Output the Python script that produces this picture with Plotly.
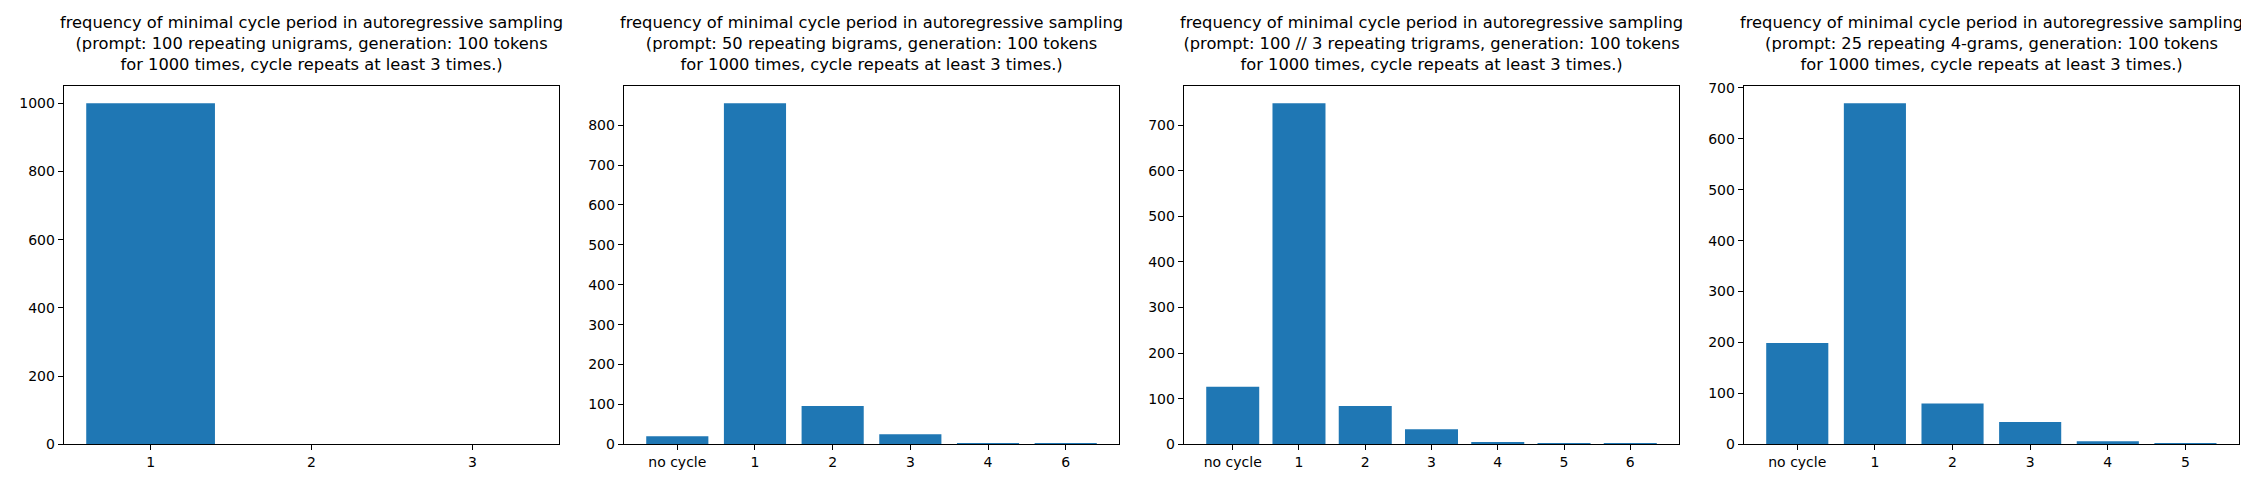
import plotly.graph_objects as go

W, H = 2249, 477

cats1 = ["1", "2", "3"]
vals1 = [1000, 0, 0]
cats2 = ["no cycle", "1", "2", "3", "4", "6"]
vals2 = [20, 855, 96, 25, 3, 1]
cats3 = ["no cycle", "1", "2", "3", "4", "5", "6"]
vals3 = [126, 748, 84, 33, 5, 2, 2]
cats4 = ["no cycle", "1", "2", "3", "4", "5"]
vals4 = [199, 670, 80, 44, 6, 1]

titles = [
    "frequency of minimal cycle period in autoregressive sampling<br>(prompt: 100 repeating unigrams, generation: 100 tokens<br>for 1000 times, cycle repeats at least 3 times.)",
    "frequency of minimal cycle period in autoregressive sampling<br>(prompt: 50 repeating bigrams, generation: 100 tokens<br>for 1000 times, cycle repeats at least 3 times.)",
    "frequency of minimal cycle period in autoregressive sampling<br>(prompt: 100 // 3 repeating trigrams, generation: 100 tokens<br>for 1000 times, cycle repeats at least 3 times.)",
    "frequency of minimal cycle period in autoregressive sampling<br>(prompt: 25 repeating 4-grams, generation: 100 tokens<br>for 1000 times, cycle repeats at least 3 times.)",
]
ytick_steps = [200, 100, 100, 100]

panels = [(cats1, vals1), (cats2, vals2), (cats3, vals3), (cats4, vals4)]
# axes pixel extents
x_px = [(55.7, 551.3), (615.7, 1111.3), (1175.7, 1671.3), (1735.7, 2231)]
y_top_px, y_bot_px = 74.3, 443.3

fig = go.Figure()
annotations = []
font = "DejaVu Sans"
for i, ((cats, vals), (x0, x1)) in enumerate(zip(panels, x_px)):
    n = i + 1
    xa = "x" if n == 1 else f"x{n}"
    ya = "y" if n == 1 else f"y{n}"
    fig.add_trace(go.Bar(x=cats, y=vals, marker=dict(color="#1f77b4", line=dict(width=0)),
                         xaxis=xa, yaxis=ya, showlegend=False))
    span = len(cats) - 1 + 0.8
    xr = [-0.4 - 0.05 * span, len(cats) - 1 + 0.4 + 0.05 * span]
    ymax = max(vals) * 1.05
    dom_x = [x0 / W, x1 / W]
    dom_y = [1 - y_bot_px / H, 1 - y_top_px / H]
    axkw = dict(showline=True, linecolor="black", linewidth=1, mirror=True,
                ticks="outside", ticklen=5, tickwidth=1, tickcolor="black",
                showgrid=False, zeroline=False,
                tickfont=dict(family=font, size=14, color="black"))
    xname = "xaxis" if n == 1 else f"xaxis{n}"
    yname = "yaxis" if n == 1 else f"yaxis{n}"
    fig.update_layout(**{
        xname: dict(domain=dom_x, anchor=ya, type="category", range=xr, **axkw),
        yname: dict(domain=dom_y, anchor=xa, range=[0, ymax], tickmode="linear",
                    tick0=0, dtick=ytick_steps[i], **axkw),
    })
    annotations.append(dict(text=titles[i], x=(x0 + x1) / 2 / W, y=dom_y[1],
                            xref="paper", yref="paper", xanchor="center", yanchor="bottom",
                            yshift=10, showarrow=False,
                            font=dict(family=font, size=16.3, color="black")))

fig.update_layout(width=W, height=H, margin=dict(l=0, r=0, t=0, b=0),
                  paper_bgcolor="white", plot_bgcolor="white", bargap=0.2,
                  annotations=annotations)
fig.write_html("out.html")
